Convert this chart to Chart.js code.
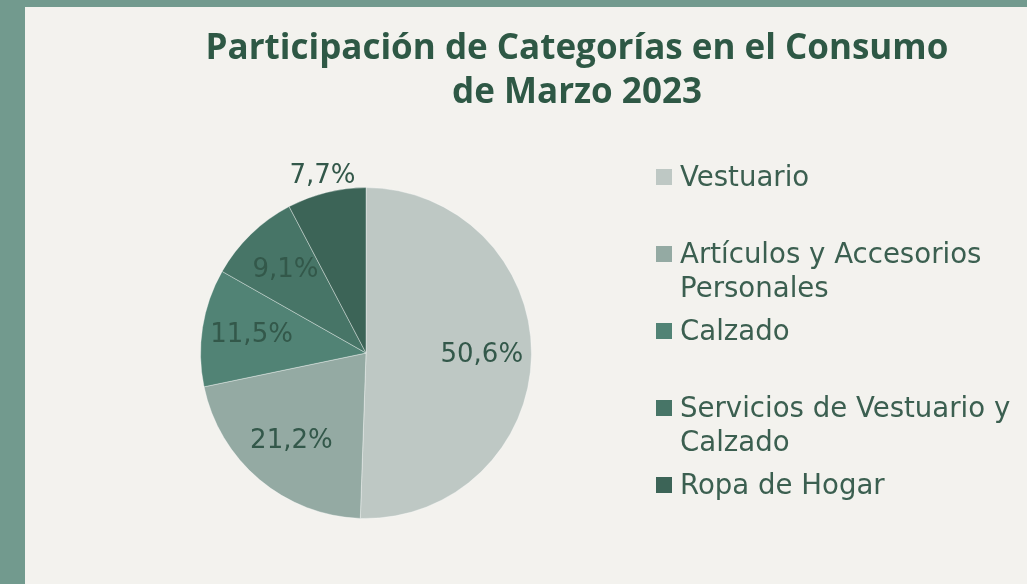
<!DOCTYPE html>
<html lang="es">
<head>
<meta charset="utf-8">
<script src="https://cdn.jsdelivr.net/npm/chart.js@4/dist/chart.umd.min.js"></script>
<style>
  html, body { margin: 0; padding: 0; width: 1027px; height: 584px; overflow: hidden; background: #729a8e; }
  #panel { position: absolute; left: 25px; top: 7px; right: 0; bottom: 0; background: #f3f2ee; }
  #chart { position: absolute; left: 0; top: 0; }
  #legend { position: absolute; left: 656px; top: 160px; margin: 0; padding: 0; list-style: none;
            font-family: 'DejaVu Sans'; font-size: 27.6px; line-height: 34px; color: #3b5f50; }
  #legend li { display: flex; align-items: flex-start; height: 68px; margin-bottom: 9px; }
  #legend .sw { width: 16px; height: 16px; margin: 9px 8px 0 0; flex: none; }
</style>
</head>
<body>
<div id="panel"></div>
<canvas id="chart" width="1027" height="584"></canvas>
<ul id="legend"></ul>
<script>
// data
const categories = [['Vestuario'], ['Artículos y Accesorios', 'Personales'], ['Calzado'], ['Servicios de Vestuario y', 'Calzado'], ['Ropa de Hogar']];
const shares = [50.6, 21.2, 11.5, 9.1, 7.7];
const sliceColors = ['#bec8c4', '#94aaa3', '#518375', '#477567', '#3c6457'];
const titleLines = ['Participación de Categorías en el Consumo', 'de Marzo 2023'];

// keep room on the right for the html legend
const legendSpace = {
    id: 'legendSpace',
    beforeInit(chart) {
        Chart.layouts.addBox(chart, {
            position: 'right',
            weight: 500,
            fullSize: false,
            options: {},
            update(maxWidth, maxHeight) {
                this.width = 422;
                this.height = maxHeight;
            },
            isHorizontal() { return false; },
            draw() {}
        });
    }
};

const pctLabels = {
    id: 'pctLabels',
    afterDatasetsDraw(chart) {
        const ctx = chart.ctx;
        const meta = chart.getDatasetMeta(0);
        ctx.save();
        ctx.font = '26px "DejaVu Sans"';
        ctx.fillStyle = '#33584a';
        ctx.textAlign = 'center';
        ctx.textBaseline = 'middle';
        meta.data.forEach((arc, i) => {
            const p = arc.getProps(['x', 'y', 'startAngle', 'endAngle', 'outerRadius'], true);
            const mid = (p.startAngle + p.endAngle) / 2;
            const f = shares[i] < 8 ? 1.1 : 0.7;
            const txt = shares[i].toFixed(1).replace('.', ',') + '%';
            ctx.fillText(txt, p.x + Math.cos(mid) * p.outerRadius * f, p.y + Math.sin(mid) * p.outerRadius * f);
        });
        ctx.restore();
    }
};

const chart = new Chart(document.getElementById('chart'), {
    type: 'pie',
    data: {
        labels: categories,
        datasets: [{
            data: shares,
            backgroundColor: sliceColors,
            borderColor: 'rgba(255, 255, 255, 0.35)',
            borderWidth: 1
        }]
    },
    options: {
        responsive: false,
        animation: false,
        layout: { padding: { left: 127, right: 0, top: 0, bottom: 65 } },
        plugins: {
            legend: { display: false },
            tooltip: { enabled: false },
            title: {
                display: true,
                text: titleLines,
                color: '#2e5845',
                font: { family: 'Open Sans', size: 35, weight: 'bold', lineHeight: 1.23 },
                padding: { top: 28, bottom: 73 }
            }
        }
    },
    plugins: [legendSpace, pctLabels]
});

const legendEl = document.getElementById('legend');
categories.forEach((lines, i) => {
    const li = document.createElement('li');
    const sw = document.createElement('span');
    sw.className = 'sw';
    sw.style.background = sliceColors[i];
    const txt = document.createElement('span');
    txt.innerHTML = lines.join('<br>');
    li.appendChild(sw);
    li.appendChild(txt);
    legendEl.appendChild(li);
});
</script>
</body>
</html>
